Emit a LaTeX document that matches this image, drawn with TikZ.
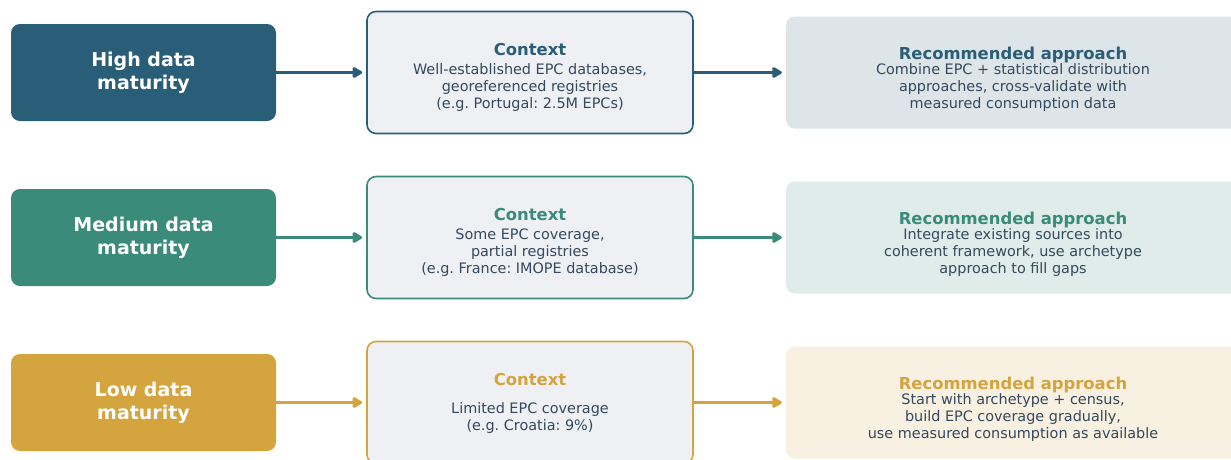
\documentclass[tikz,border=0pt]{standalone}
\usepackage{fontspec}
\setmainfont{DejaVu Sans}
\usetikzlibrary{arrows.meta}

\definecolor{alta}{HTML}{2A5D78}
\definecolor{media}{HTML}{3A8B7A}
\definecolor{baixa}{HTML}{D4A43F}
\definecolor{texto}{HTML}{34495E}
\definecolor{fundo}{HTML}{EEF0F4}

\begin{document}
\frenchspacing
\begin{tikzpicture}[x=1pt,y=-1pt]

\tikzstyle{nivel}=[rounded corners=9pt,minimum width=265pt,minimum height=97pt,text=white,align=center,font=\bfseries\fontsize{19}{23}\selectfont]
\tikzstyle{contexto}=[rounded corners=9pt,draw,line width=1.6pt,fill=fundo,minimum width=326pt,minimum height=122pt]
\tikzstyle{abordagem}=[rounded corners=9pt,minimum width=454pt,minimum height=112pt]
\tikzstyle{titulo}=[font=\bfseries\fontsize{16.4}{20}\selectfont]
\tikzstyle{corpo}=[text=texto,align=center,font=\fontsize{14.4}{17}\selectfont]
\tikzstyle{seta}=[line width=3.5pt,-{Triangle[length=11pt,width=12pt,round]},shorten >=4pt]

\clip (0,0) rectangle (1231,459);

\newcommand{\linha}[6]{
    \node[nivel,fill=#2] (#1n) at (143.5,#3) {#4};
    \node[contexto,draw=#2] (#1c) at (530,#3) {};
    \node[titulo,text=#2] (#1ct) at (530,{#3-23}) {Context};
    \node[corpo] (#1cb) at (530,{#3+15.5}) {#5};
    \node[abordagem,fill=#2!16] (#1a) at (1013,#3) {};
    \node[titulo,text=#2] (#1at) at (1013,{#3-18}) {Recommended approach};
    \node[corpo] (#1ab) at (1013,{#3+15}) {#6};
    \draw[seta,#2] (#1n) -- (#1c);
    \draw[seta,#2] (#1c) -- (#1a);
}

\linha{alta}{alta}{72.5}{High data\\maturity}{Well-established EPC databases,\\georeferenced registries\\(e.g. Portugal: 2.5M EPCs)}{Combine EPC + statistical distribution\\approaches, cross-validate with\\measured consumption data}

\linha{media}{media}{237.5}{Medium data\\maturity}{Some EPC coverage,\\partial registries\\(e.g. France: IMOPE database)}{Integrate existing sources into\\coherent framework, use archetype\\approach to fill gaps}

\linha{baixa}{baixa}{402.5}{Low data\\maturity}{Limited EPC coverage\\(e.g. Croatia: 9\%)}{Start with archetype + census,\\build EPC coverage gradually,\\use measured consumption as available}

\end{tikzpicture}
\end{document}
